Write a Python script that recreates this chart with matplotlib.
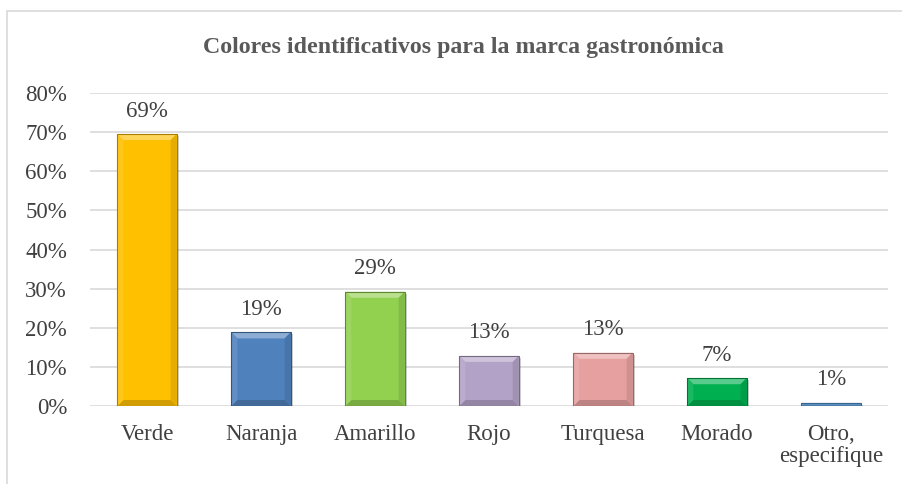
import matplotlib
matplotlib.use("Agg")
import matplotlib.pyplot as plt
from matplotlib.patches import Rectangle, Polygon
import matplotlib.colors as mcolors
import numpy as np

categories = ["Verde", "Naranja", "Amarillo", "Rojo", "Turquesa", "Morado", "Otro,\nespecifique"]
values = [69.5, 18.8, 29.2, 12.8, 13.6, 7.1, 0.8]
labels = ["69%", "19%", "29%", "13%", "13%", "7%", "1%"]
colors = ["#FFC000", "#4F81BD", "#92D050", "#B3A2C7", "#E6A0A0", "#00B050", "#5B9BD5"]
yticks = [0, 10, 20, 30, 40, 50, 60, 70, 80]

plt.rcParams['font.family'] = ['Liberation Serif', 'DejaVu Serif']

fig = plt.figure(figsize=(9.02, 4.84), dpi=100)
W, H = 902, 484
ax = fig.add_axes([90 / W, 1 - 406 / H, (888 - 90) / W, (406 - 93) / H])

# chart border
fig.patches.append(Rectangle((7 / W, -0.01), 1.0, 1 - 11 / H + 0.01, transform=fig.transFigure,
                             fill=False, edgecolor="#D9D9D9", linewidth=1.2))

x = np.arange(len(categories))
bars = ax.bar(x, values, width=0.52, color=colors, zorder=3, linewidth=0)

ax.set_ylim(0, 80)
ax.set_xlim(-0.5, len(categories) - 0.5)
ax.set_yticks(yticks)
ax.set_yticklabels([f"{t}%" for t in yticks])
ax.set_xticks(x)
ax.set_xticklabels(categories, linespacing=1.05)
ax.tick_params(axis='both', length=0, labelsize=16.5, colors="#404040")
ax.tick_params(axis='y', pad=16.5)
ax.tick_params(axis='x', pad=13)
ax.grid(axis='y', color="#D9D9D9", linewidth=1.2, zorder=0)
for s in ax.spines.values():
    s.set_visible(False)

fig.canvas.draw()
inv = ax.transData.inverted()

def shade(c, f):
    r, g, b = mcolors.to_rgb(c)
    if f > 0:
        return (r + (1 - r) * f, g + (1 - g) * f, b + (1 - b) * f)
    return (r * (1 + f), g * (1 + f), b * (1 + f))

for b, c in zip(bars, colors):
    x0, y0, x1, y1 = b.get_window_extent().extents
    bev = min(6.0, (y1 - y0) / 2, (x1 - x0) / 2)
    o = [(x0, y0), (x1, y0), (x1, y1), (x0, y1)]
    i = [(x0 + bev, y0 + bev), (x1 - bev, y0 + bev), (x1 - bev, y1 - bev), (x0 + bev, y1 - bev)]
    # soft shadow
    sh = [(x0 + 2, y0 - 2), (x1 + 2, y0 - 2), (x1 + 2, y1 - 2), (x0 + 2, y1 - 2)]
    ax.add_patch(Polygon(inv.transform(sh), closed=True, facecolor=(0, 0, 0, 0.18), edgecolor='none', zorder=2.5))
    faces = [
        ([o[3], o[2], i[2], i[3]], shade(c, 0.35)),   # top
        ([o[0], o[1], i[1], i[0]], shade(c, -0.18)),  # bottom
        ([o[0], o[3], i[3], i[0]], shade(c, 0.1)),    # left
        ([o[1], o[2], i[2], i[1]], shade(c, -0.1)),   # right
    ]
    for poly, col in faces:
        ax.add_patch(Polygon(inv.transform(poly), closed=True, facecolor=col, edgecolor='none', zorder=4))
    ax.add_patch(Polygon(inv.transform(o), closed=True, fill=False, edgecolor=shade(c, -0.35),
                         linewidth=0.8, zorder=5))

for xi, v, lab in zip(x, values, labels):
    ax.annotate(lab, (xi, v), xytext=(0, 9), textcoords="offset points", ha="center", va="bottom",
                fontsize=16.5, color="#404040")

fig.text(463 / W, 1 - 47 / H, "Colores identificativos para la marca gastronómica", ha="center", va="center",
         fontsize=17.2, fontweight="bold", color="#595959")

fig.savefig("out.png", dpi=100)
